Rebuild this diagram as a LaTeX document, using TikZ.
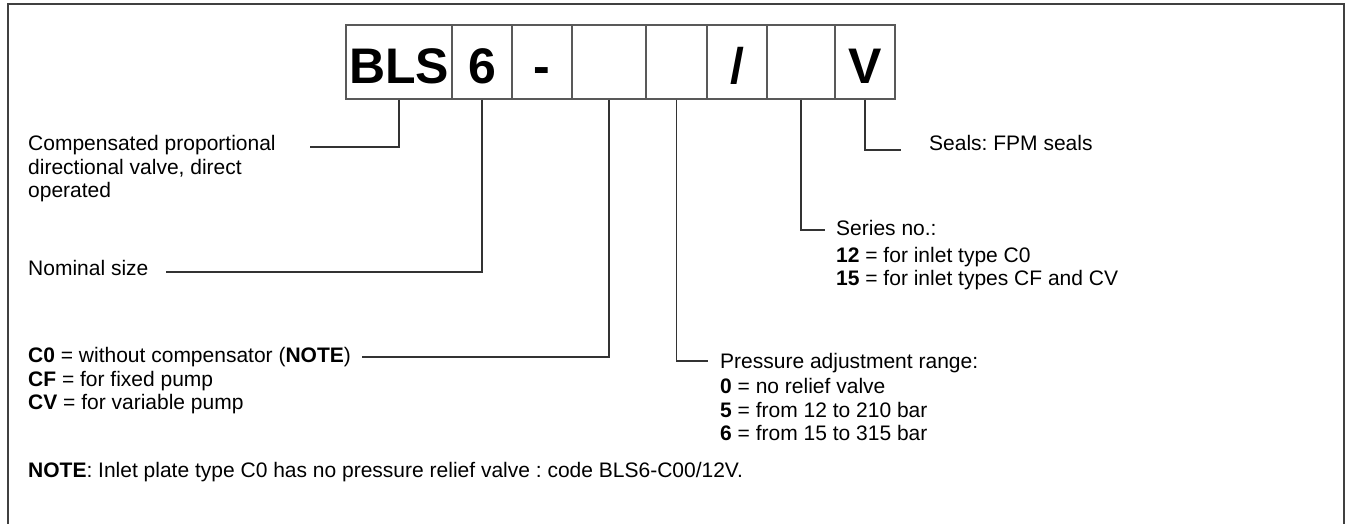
\documentclass[tikz,border=0pt]{standalone}
\usepackage{fontspec}
\setmainfont{Liberation Sans}
\frenchspacing
\begin{document}
\begin{tikzpicture}[x=1pt,y=-1pt,
  codebox/.style={draw=black!65,line width=1.4pt,minimum height=74pt,inner sep=0pt,
    text height=44pt,text depth=0pt,
    font=\fontsize{50}{50}\selectfont\bfseries},
  lbl/.style={anchor=base west,inner sep=0pt,font=\fontsize{21}{23.5}\selectfont},
  conn/.style={draw=black!80,line width=1.3pt},
  frame/.style={draw=black!75,line width=2pt}]
\useasboundingbox (0,0) rectangle (1348,524);
\draw[frame] (8,540) -- (8,4) -- (1344,4) -- (1344,540);
% code boxes
\node[codebox,minimum width=106pt] (b1) at (399,62) {BLS};
\node[codebox,minimum width=60pt] (b2) at (482,62) {6};
\node[codebox,minimum width=60pt] (b3) at (542,62) {-};
\node[codebox,minimum width=74pt] (b4) at (609,62) {};
\node[codebox,minimum width=61pt] (b5) at (676.5,62) {};
\node[codebox,minimum width=60pt] (b6) at (737,62) {/};
\node[codebox,minimum width=68pt] (b7) at (801,62) {};
\node[codebox,minimum width=60pt] (b8) at (865,62) {V};
% labels
\node[lbl] (t1a) at (28,150) {Compensated proportional};
\node[lbl] (t1b) at (28,174) {directional valve, direct};
\node[lbl] (t1c) at (28,197.5) {operated};
\node[lbl] (t2) at (28,275.5) {Nominal size};
\node[lbl] (t4a) at (28,362.5) {\textbf{C0} = without compensator (\textbf{NOTE})};
\node[lbl] (t4b) at (28,386.5) {\textbf{CF} = for fixed pump};
\node[lbl] (t4c) at (28,409.5) {\textbf{CV} = for variable pump};
\node[lbl] (t5a) at (720,368.5) {Pressure adjustment range:};
\node[lbl] (t5b) at (720,393.5) {\textbf{0} = no relief valve};
\node[lbl] (t5c) at (720,417.5) {\textbf{5} = from 12 to 210 bar};
\node[lbl] (t5d) at (720,440.5) {\textbf{6} = from 15 to 315 bar};
\node[lbl] (t7a) at (836,235.5) {Series no.:};
\node[lbl] (t7b) at (836,262.5) {\textbf{12} = for inlet type C0};
\node[lbl] (t7c) at (836,285.5) {\textbf{15} = for inlet types CF and CV};
\node[lbl] (t8) at (929,150.5) {Seals: FPM seals};
\node[lbl] (note) at (28,477.5) {\textbf{NOTE}: Inlet plate type C0 has no pressure relief valve : code BLS6-C00/12V.};
% connector ends
\coordinate (e1) at (310,147);
\coordinate (e2) at (166,272);
\coordinate (e4) at (362,357);
\coordinate (e5) at (708,361);
\coordinate (e7) at (825,230);
\coordinate (e8) at (901,150);
\draw[conn] (b1.south) |- (e1);
\draw[conn] (b2.south) |- (e2);
\draw[conn] (b4.south) |- (e4);
\draw[conn] (b5.south) |- (e5);
\draw[conn] (b7.south) |- (e7);
\draw[conn] (b8.south) |- (e8);
\end{tikzpicture}
\end{document}
